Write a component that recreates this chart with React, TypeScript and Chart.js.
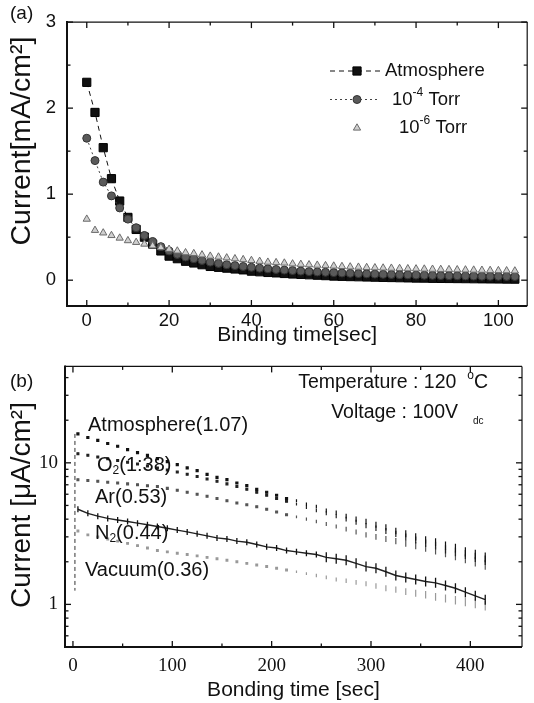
import React, { useEffect, useRef } from "react";
import { Chart, registerables } from "chart.js";

Chart.register(...registerables);

// ---------- Panel (a) data ----------
const timeA = [0, 2, 4, 6, 8, 10, 12, 14, 16, 18, 20, 22, 24, 26, 28, 30, 32, 34, 36, 38, 40, 42, 44, 46, 48, 50, 52, 54, 56, 58, 60, 62, 64, 66, 68, 70, 72, 74, 76, 78, 80, 82, 84, 86, 88, 90, 92, 94, 96, 98, 100, 102, 104];
const atmosphereA = [2.3, 1.95, 1.54, 1.18, 0.92, 0.73, 0.59, 0.5, 0.42, 0.34, 0.28, 0.25, 0.22, 0.2, 0.18, 0.16, 0.15, 0.14, 0.13, 0.12, 0.105, 0.098, 0.09, 0.085, 0.078, 0.072, 0.068, 0.063, 0.058, 0.053, 0.048, 0.045, 0.042, 0.04, 0.037, 0.035, 0.033, 0.031, 0.029, 0.027, 0.025, 0.024, 0.022, 0.021, 0.02, 0.019, 0.018, 0.017, 0.016, 0.015, 0.014, 0.013, 0.012];
const torr4A = [1.65, 1.39, 1.14, 0.98, 0.84, 0.71, 0.61, 0.52, 0.45, 0.39, 0.34, 0.3, 0.27, 0.25, 0.23, 0.21, 0.195, 0.18, 0.17, 0.16, 0.15, 0.14, 0.132, 0.125, 0.118, 0.112, 0.106, 0.1, 0.096, 0.092, 0.088, 0.084, 0.08, 0.077, 0.074, 0.071, 0.068, 0.066, 0.064, 0.062, 0.06, 0.058, 0.056, 0.054, 0.052, 0.051, 0.05, 0.048, 0.047, 0.046, 0.045, 0.044, 0.043];
const torr6A = [0.71, 0.58, 0.55, 0.52, 0.49, 0.46, 0.44, 0.42, 0.4, 0.38, 0.36, 0.34, 0.32, 0.31, 0.295, 0.28, 0.27, 0.26, 0.25, 0.24, 0.23, 0.22, 0.21, 0.205, 0.2, 0.19, 0.185, 0.18, 0.175, 0.17, 0.165, 0.16, 0.155, 0.152, 0.148, 0.145, 0.142, 0.14, 0.137, 0.134, 0.132, 0.13, 0.128, 0.126, 0.124, 0.122, 0.12, 0.118, 0.116, 0.114, 0.112, 0.11, 0.108];
const xTicksA = [0, 20, 40, 60, 80, 100];
const xMinorA = [10, 30, 50, 70, 90];
const yTicksA = [0, 1, 2, 3];
const yMinorA = [0.5, 1.5, 2.5];

// ---------- Panel (b) data ----------
const timeB = [5, 15, 25, 35, 45, 55, 65, 75, 85, 95, 105, 115, 125, 135, 145, 155, 165, 175, 185, 195, 205, 215, 225, 235, 245, 255, 265, 275, 285, 295, 305, 315, 325, 335, 345, 355, 365, 375, 385, 395, 405, 415];
const atmosphereB = [16.0, 15.1, 14.4, 13.7, 13.1, 12.4, 11.8, 11.3, 10.7, 10.2, 9.7, 9.2, 8.8, 8.3, 7.9, 7.6, 7.2, 6.9, 6.5, 6.2, 5.9, 5.6, 5.4, 5.1, 4.9, 4.6, 4.45, 4.2, 4.0, 3.85, 3.65, 3.5, 3.3, 3.15, 3.0, 2.85, 2.75, 2.6, 2.5, 2.35, 2.25, 2.15];
const o2B = [11.6, 11.3, 11.0, 10.7, 10.4, 10.1, 9.8, 9.5, 9.2, 8.9, 8.6, 8.3, 8.0, 7.7, 7.4, 7.1, 6.8, 6.5, 6.2, 5.9, 5.6, 5.35, 5.1, 4.85, 4.6, 4.4, 4.2, 4.0, 3.8, 3.6, 3.45, 3.3, 3.15, 3.0, 2.85, 2.7, 2.6, 2.45, 2.35, 2.25, 2.15, 2.05];
const arB = [7.6, 7.5, 7.4, 7.3, 7.2, 7.1, 7.0, 6.9, 6.8, 6.6, 6.4, 6.2, 6.0, 5.8, 5.6, 5.4, 5.2, 5.05, 4.9, 4.7, 4.5, 4.3, 4.15, 4.0, 3.85, 3.7, 3.55, 3.4, 3.25, 3.1, 3.0, 2.9, 2.8, 2.7, 2.6, 2.5, 2.4, 2.3, 2.2, 2.1, 2.0, 1.9];
const n2B = [4.7, 4.4, 4.2, 4.05, 3.95, 3.85, 3.75, 3.65, 3.55, 3.45, 3.35, 3.25, 3.15, 3.05, 2.95, 2.9, 2.8, 2.75, 2.65, 2.55, 2.5, 2.4, 2.35, 2.3, 2.25, 2.15, 2.1, 2.05, 1.95, 1.85, 1.8, 1.7, 1.6, 1.55, 1.5, 1.45, 1.42, 1.36, 1.3, 1.22, 1.15, 1.08];
const vacuumB = [3.3, 3.1, 3.0, 2.9, 2.8, 2.7, 2.6, 2.5, 2.4, 2.35, 2.3, 2.25, 2.2, 2.15, 2.1, 2.05, 2.0, 1.95, 1.9, 1.85, 1.8, 1.75, 1.7, 1.65, 1.6, 1.55, 1.5, 1.47, 1.43, 1.4, 1.35, 1.3, 1.27, 1.23, 1.2, 1.17, 1.13, 1.1, 1.07, 1.04, 1.01, 0.98];
const transientT = [2, 2];
const transientB = [16, 1.25];
const xTicksB = [0, 100, 200, 300, 400];
const xMinorB = [50, 150, 250, 350];
const yTicksB = [1, 10];
const yMinorB = [0.6, 0.7, 0.8, 0.9, 2, 3, 4, 5, 6, 7, 8, 9, 20, 30, 40];

const SANS = "'Liberation Sans', Arial, sans-serif";
const SERIF = "'Liberation Serif', 'Times New Roman', serif";

const pts = (xs: number[], ys: number[]) => xs.map((x, i) => ({ x, y: ys[i] }));

type Seg = { t: string; size?: number; dy?: number };
function drawRich(ctx: CanvasRenderingContext2D, segs: Seg[], x: number, y: number, base: number, family: string, align: "left" | "right" = "left") {
  const widths = segs.map((s) => {
    ctx.font = `${s.size ?? base}px ${family}`;
    return ctx.measureText(s.t).width;
  });
  const total = widths.reduce((a, b) => a + b, 0);
  let cx = align === "right" ? x - total : x;
  ctx.textAlign = "left";
  ctx.textBaseline = "middle";
  segs.forEach((s, i) => {
    ctx.font = `${s.size ?? base}px ${family}`;
    ctx.fillText(s.t, cx, y + (s.dy ?? 0));
    cx += widths[i];
  });
}

function drawYTitle(ctx: CanvasRenderingContext2D, text: string, cx: number, cy: number, size: number) {
  ctx.save();
  ctx.font = `${size}px ${SANS}`;
  ctx.fillStyle = "#111";
  ctx.translate(cx, cy);
  ctx.rotate(-Math.PI / 2);
  ctx.textAlign = "center";
  ctx.textBaseline = "middle";
  ctx.fillText(text, 0, 0);
  ctx.restore();
}

function frame(chart: any, xMaj: number[], xMin: number[], yMaj: number[], yMin: number[]) {
  const { ctx, chartArea } = chart;
  const { left, right, top, bottom } = chartArea;
  const xs = chart.scales.x;
  const ys = chart.scales.y;
  ctx.save();
  ctx.strokeStyle = "#111";
  const seg = (x1: number, y1: number, x2: number, y2: number) => {
    ctx.beginPath();
    ctx.moveTo(x1, y1);
    ctx.lineTo(x2, y2);
    ctx.stroke();
  };
  ctx.lineWidth = 1.2;
  seg(left, top, right, top);
  seg(right, top, right, bottom);
  ctx.lineWidth = 2;
  seg(left, top - 1, left, bottom + 1);
  seg(left - 1, bottom, right, bottom);
  ctx.lineWidth = 1.3;
  const xt = (vals: number[], len: number) =>
    vals.forEach((v) => {
      const p = xs.getPixelForValue(v);
      seg(p, bottom, p, bottom - len);
      seg(p, top, p, top + len);
    });
  const yt = (vals: number[], len: number) =>
    vals.forEach((v) => {
      const p = ys.getPixelForValue(v);
      seg(left, p, left + len, p);
      seg(right, p, right - len, p);
    });
  xt(xMaj, 6);
  xt(xMin, 3.5);
  yt(yMaj, 6);
  yt(yMin, 3.5);
  ctx.restore();
}

const H_A = 348;
const H_B = 355;

function App() {
  const refA = useRef<HTMLCanvasElement>(null);
  const refB = useRef<HTMLCanvasElement>(null);

  useEffect(() => {
    document.body.style.margin = "0";
    const ink = "#111";

    const pluginA = {
      id: "decorA",
      afterDatasetsDraw(chart: any) {
        frame(chart, xTicksA, xMinorA, yTicksA, yMinorA);
        const ctx: CanvasRenderingContext2D = chart.ctx;
        ctx.save();
        ctx.fillStyle = ink;
        drawRich(ctx, [{ t: "(a)" }], 10, 14, 19, SANS);
        drawYTitle(ctx, "Current[mA/cm²]", 22, 141, 28.5);
        // legend
        const ds = chart.data.datasets;
        const rows = [
          { y: 71, tx: 385, segs: [{ t: "Atmosphere" }] as Seg[], line: true },
          { y: 99.5, tx: 392, segs: [{ t: "10" }, { t: "-4", size: 12, dy: -7 }, { t: " Torr" }] as Seg[], line: true },
          { y: 128, tx: 399, segs: [{ t: "10" }, { t: "-6", size: 12, dy: -7 }, { t: " Torr" }] as Seg[], line: false },
        ];
        rows.forEach((r, i) => {
          const d = ds[i];
          if (r.line) {
            ctx.save();
            ctx.strokeStyle = d.borderColor;
            ctx.lineWidth = d.borderWidth;
            ctx.setLineDash(d.borderDash || []);
            ctx.beginPath();
            ctx.moveTo(330, r.y);
            ctx.lineTo(380, r.y);
            ctx.stroke();
            ctx.restore();
          }
          const meta = chart.getDatasetMeta(i);
          const el = meta.data[0];
          if (el) {
            const sx = el.x;
            const sy = el.y;
            el.x = 357;
            el.y = r.y;
            ctx.save();
            el.draw(ctx, chart.chartArea);
            ctx.restore();
            el.x = sx;
            el.y = sy;
          }
          ctx.fillStyle = ink;
          drawRich(ctx, r.segs, r.tx, r.y, 18.5, SANS);
        });
        ctx.restore();
      },
    };

    const pluginB = {
      id: "decorB",
      afterDatasetsDraw(chart: any) {
        frame(chart, xTicksB, xMinorB, yTicksB, yMinorB);
        const ctx: CanvasRenderingContext2D = chart.ctx;
        ctx.save();
        ctx.fillStyle = ink;
        drawRich(ctx, [{ t: "(b)" }], 10, 34, 19, SANS);
        drawYTitle(ctx, "Current [μA/cm²]", 22, 157, 28);
        drawRich(ctx, [{ t: "Temperature : 120  " }, { t: "o", size: 12, dy: -7 }, { t: "C" }], 488, 35, 19.5, SANS, "right");
        drawRich(ctx, [{ t: "Voltage : 100V" }], 458, 65, 19.5, SANS, "right");
        drawRich(ctx, [{ t: "dc", size: 10 }], 473, 73, 10, SANS);
        drawRich(ctx, [{ t: "Atmosphere(1.07)" }], 88, 77, 20, SANS);
        drawRich(ctx, [{ t: "O" }, { t: "2", size: 12, dy: 6 }, { t: "(1:38)" }], 97, 117, 20, SANS);
        drawRich(ctx, [{ t: "Ar(0.53)" }], 95, 149, 20, SANS);
        drawRich(ctx, [{ t: "N" }, { t: "2", size: 12, dy: 6 }, { t: "(0.44)" }], 95, 185, 20, SANS);
        drawRich(ctx, [{ t: "Vacuum(0.36)" }], 85, 222, 20, SANS);
        ctx.restore();
      },
    };

    const baseGrid = { display: false, drawTicks: false };

    const chartA = new Chart(refA.current as HTMLCanvasElement, {
      type: "scatter",
      data: {
        datasets: [
          {
            label: "Atmosphere",
            data: pts(timeA, atmosphereA),
            showLine: true,
            borderColor: "#111",
            borderWidth: 1,
            borderDash: [5, 4],
            pointStyle: "rect",
            pointRadius: 5.8,
            pointBackgroundColor: "#111",
            pointBorderColor: "#000",
            pointBorderWidth: 1,
            order: 2,
          },
          {
            label: "10-4 Torr",
            data: pts(timeA, torr4A),
            showLine: true,
            borderColor: "#444",
            borderWidth: 1,
            borderDash: [2, 3],
            pointStyle: "circle",
            pointRadius: 4,
            pointBackgroundColor: "#5a5a5a",
            pointBorderColor: "#333",
            pointBorderWidth: 1,
            order: 1,
          },
          {
            label: "10-6 Torr",
            data: pts(timeA, torr6A),
            showLine: false,
            borderColor: "#999",
            borderWidth: 1,
            pointStyle: "triangle",
            pointRadius: 4.2,
            pointBackgroundColor: "#cfcfcf",
            pointBorderColor: "#6a6a6a",
            pointBorderWidth: 1,
            order: 0,
          },
        ],
      },
      options: {
        animation: false,
        responsive: false,
        devicePixelRatio: 1,
        layout: { padding: { top: 15, right: 3, left: 0, bottom: 0 } },
        plugins: { legend: { display: false }, tooltip: { enabled: false } },
        scales: {
          x: {
            type: "linear",
            min: -4.8,
            max: 107,
            grid: baseGrid,
            border: { display: false },
            afterBuildTicks: (s: any) => {
              s.ticks = xTicksA.map((v) => ({ value: v }));
            },
            afterFit: (s: any) => {
              s.height = H_A - 306;
            },
            ticks: { color: ink, padding: 4, font: { family: SANS, size: 18.5 }, callback: (v: any) => String(v) },
            title: { display: true, text: "Binding time[sec]", color: ink, padding: { top: 0, bottom: 2 }, font: { family: SANS, size: 21, lineHeight: 1 } },
          },
          y: {
            type: "linear",
            min: -0.3,
            max: 3,
            grid: baseGrid,
            border: { display: false },
            afterBuildTicks: (s: any) => {
              s.ticks = yTicksA.map((v) => ({ value: v }));
            },
            afterFit: (s: any) => {
              s.width = 67;
            },
            ticks: { color: ink, padding: 11, font: { family: SANS, size: 18.5 }, callback: (v: any) => String(v) },
            title: { display: false, text: "Current[mA/cm²]" },
          },
        },
      },
      plugins: [pluginA],
    } as any);

    const streakRadius = (base: number) => (c: any) => {
      const x = c.raw ? c.raw.x : 0;
      return x < 220 ? base : base + (x - 220) / 55;
    };
    const streakStyle = (c: any) => {
      const x = c.raw ? c.raw.x : 0;
      return x < 220 ? "rect" : "line";
    };

    const chartB = new Chart(refB.current as HTMLCanvasElement, {
      type: "scatter",
      data: {
        datasets: [
          {
            label: "Atmosphere(1.07)",
            data: pts(timeB, atmosphereB),
            showLine: false,
            pointStyle: streakStyle,
            pointRotation: 90,
            pointRadius: streakRadius(1.4),
            pointBackgroundColor: "#111",
            pointBorderColor: "#111",
            pointBorderWidth: 1.2,
          },
          {
            label: "O2(1:38)",
            data: pts(timeB, o2B),
            showLine: false,
            pointStyle: streakStyle,
            pointRotation: 90,
            pointRadius: streakRadius(1.3),
            pointBackgroundColor: "#222",
            pointBorderColor: "#222",
            pointBorderWidth: 1.2,
          },
          {
            label: "Ar(0.53)",
            data: pts(timeB, arB),
            showLine: false,
            pointStyle: streakStyle,
            pointRotation: 90,
            pointRadius: streakRadius(1.3),
            pointBackgroundColor: "#555",
            pointBorderColor: "#555",
            pointBorderWidth: 1.2,
          },
          {
            label: "N2(0.44)",
            data: pts(timeB, n2B),
            showLine: true,
            borderColor: "#222",
            borderWidth: 1.4,
            pointStyle: "line",
            pointRotation: 90,
            pointRadius: (c: any) => (c.raw && c.raw.x > 250 ? 5 : 3),
            pointBorderColor: "#111",
            pointBorderWidth: 1.3,
          },
          {
            label: "Vacuum(0.36)",
            data: pts(timeB, vacuumB),
            showLine: false,
            pointStyle: streakStyle,
            pointRotation: 90,
            pointRadius: streakRadius(1.2),
            pointBackgroundColor: "#999",
            pointBorderColor: "#999",
            pointBorderWidth: 1.2,
          },
          {
            label: "transient",
            data: pts(transientT, transientB),
            showLine: true,
            borderColor: "#333",
            borderWidth: 1,
            borderDash: [4, 3],
            pointRadius: 0,
          },
        ],
      },
      options: {
        animation: false,
        responsive: false,
        devicePixelRatio: 1,
        layout: { padding: { top: 363 - H_A, right: 12, left: 0, bottom: 0 } },
        plugins: { legend: { display: false }, tooltip: { enabled: false } },
        scales: {
          x: {
            type: "linear",
            min: -8,
            max: 452,
            grid: baseGrid,
            border: { display: false },
            afterBuildTicks: (s: any) => {
              s.ticks = xTicksB.map((v) => ({ value: v }));
            },
            afterFit: (s: any) => {
              s.height = H_A + H_B - 647;
            },
            ticks: { color: ink, padding: 8, font: { family: SERIF, size: 19 }, callback: (v: any) => String(v) },
            title: { display: true, text: "Bonding time [sec]", color: ink, padding: { top: 0, bottom: 2 }, font: { family: SANS, size: 21, lineHeight: 1 } },
          },
          y: {
            type: "logarithmic",
            min: 0.5,
            max: 48,
            grid: baseGrid,
            border: { display: false },
            afterBuildTicks: (s: any) => {
              s.ticks = yTicksB.map((v) => ({ value: v }));
            },
            afterFit: (s: any) => {
              s.width = 65;
            },
            ticks: { color: ink, padding: 7, font: { family: SERIF, size: 19 }, callback: (v: any) => String(v) },
            title: { display: false, text: "Current [μA/cm²]" },
          },
        },
      },
      plugins: [pluginB],
    } as any);

    return () => {
      chartA.destroy();
      chartB.destroy();
    };
  }, []);

  return (
    <div style={{ position: "relative", width: 534, height: 703, background: "#fff", overflow: "hidden" }}>
      <canvas ref={refA} width={534} height={H_A} style={{ position: "absolute", left: 0, top: 0 }} />
      <canvas ref={refB} width={534} height={H_B} style={{ position: "absolute", left: 0, top: H_A }} />
    </div>
  );
}

export default App;
